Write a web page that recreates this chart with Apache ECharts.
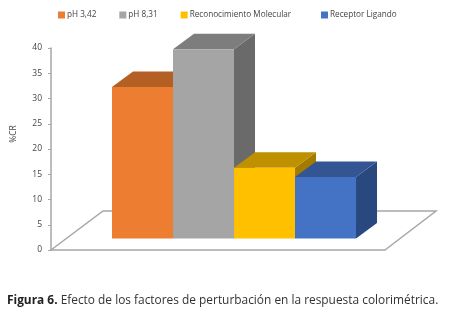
<!DOCTYPE html>
<html><head><meta charset="utf-8">
<style>html,body{margin:0;padding:0;background:#fff}#c{width:459px;height:318px}</style>
<script src="https://cdn.jsdelivr.net/npm/echarts@6/dist/echarts.min.js"></script>
</head><body><div id="c"></div>
<script>
const seriesNames = ['pH 3,42', 'pH 8,31', 'Reconocimiento Molecular', 'Receptor Ligando'];
const seriesValues = [30, 37.5, 14, 12.2];
const yTicks = [0, 5, 10, 15, 20, 25, 30, 35, 40];
const frontColors = ['#ED7D31', '#A5A5A5', '#FFC000', '#4472C4'];
const topColors = ['#B45F24', '#7D7D7D', '#BF9000', '#335593'];
const sideColors = ['#9E5320', '#6A6A6A', '#A37B00', '#2A4880'];
const DX = 21, DY = -15.5, BASE_LIFT = 11.5;
const FONT = '"Open Sans", sans-serif';

function poly(points, fill) {
  return { type: 'polygon', shape: { points }, style: { fill, stroke: null } };
}
function renderBar(params, api) {
  const i = api.value(0), v = api.value(1);
  const w = api.size([1, 0])[0];
  const c = api.coord([i, 0]);
  const xl = c[0] - w / 2, xr = c[0] + w / 2;
  const yb = c[1] - BASE_LIFT;
  const yt = api.coord([i, v])[1] - BASE_LIFT;
  const k = params.seriesIndex - 1;
  return { type: 'group', children: [
    poly([[xr, yb], [xr + DX, yb + DY], [xr + DX, yt + DY], [xr, yt]], sideColors[k]),
    poly([[xl, yt], [xr, yt], [xr + DX, yt + DY], [xl + DX, yt + DY]], topColors[k]),
    poly([[xl, yb], [xr, yb], [xr, yt], [xl, yt]], frontColors[k])
  ]};
}
function renderFloor(params, api) {
  const a = api.coord([api.value(0), 0]), b = api.coord([api.value(1), 0]);
  return { type: 'polyline',
    shape: { points: [a, [a[0] + 52, a[1] - 39], [b[0] + 51, b[1] - 39], b] },
    style: { fill: null, stroke: '#a6a6a6', lineWidth: 1.5 } };
}

const X_MIN = -1.5, X_MAX = 3.975;
const series = [{
  type: 'custom', name: 'suelo', renderItem: renderFloor, silent: true,
  data: [[X_MIN, X_MAX]], encode: { x: [0, 1], y: [] }, z: 1
}].concat(seriesNames.map((name, i) => ({
  type: 'custom', name, renderItem: renderBar,
  itemStyle: { color: frontColors[i] },
  data: [[i, seriesValues[i]]], encode: { x: 0, y: 1 }, z: 2 + i
})));

const legendBase = {
  top: 11, padding: 0, icon: 'rect', itemWidth: 7, itemHeight: 7, itemGap: 23,
  textStyle: { fontFamily: FONT, fontSize: 8.2, color: '#444', padding: [0, 0, 0, -3] }
};

const chart = echarts.init(document.getElementById('c'), null, { renderer: 'canvas' });
chart.setOption({
  animation: false,
  backgroundColor: '#fff',
  textStyle: { fontFamily: FONT },
  title: {
    left: 7, top: 295, padding: 0,
    text: '{b|Figura 6.}{r| Efecto de los factores de perturbación en la respuesta colorimétrica.}',
    textStyle: { fontWeight: 'normal', rich: {
      b: { fontFamily: FONT, fontSize: 11.9, fontWeight: 'bold', color: '#222' },
      r: { fontFamily: FONT, fontSize: 11.9, fontWeight: 'normal', color: '#333' }
    } }
  },
  legend: [
    Object.assign({}, legendBase, { left: 58, data: seriesNames.slice(0, 3) }),
    Object.assign({}, legendBase, { left: 321, data: seriesNames.slice(3) })
  ],
  grid: { left: 51, top: 48, width: 334, height: 202 },
  xAxis: {
    type: 'value', min: X_MIN, max: X_MAX,
    axisLine: { show: true, lineStyle: { color: '#a6a6a6', width: 1.5 } },
    axisTick: { show: false }, axisLabel: { show: false }, splitLine: { show: false }
  },
  yAxis: {
    type: 'value', min: yTicks[0], max: yTicks[yTicks.length - 1], interval: 5,
    name: '%CR', nameLocation: 'middle', nameGap: 33, nameRotate: 90,
    nameTextStyle: { fontFamily: FONT, fontSize: 8.5, color: '#444', padding: [0, 0, 0, 30] },
    axisLine: { show: true, onZero: false, lineStyle: { color: '#a6a6a6', width: 1.5 } },
    axisTick: { show: true, length: 3, lineStyle: { color: '#a6a6a6' } },
    axisLabel: { fontFamily: FONT, fontSize: 8.5, color: '#444', margin: 9 },
    splitLine: { show: false }
  },
  series
});
</script></body></html>
